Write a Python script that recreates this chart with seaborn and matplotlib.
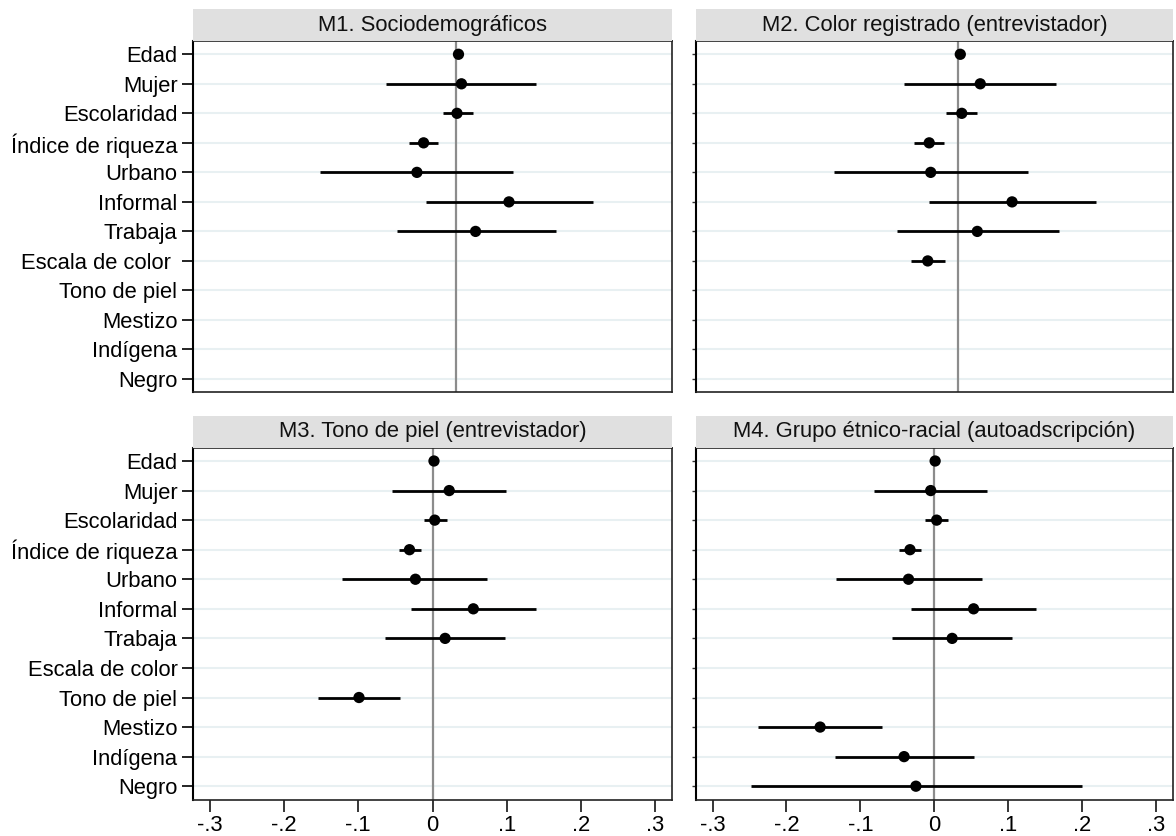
import numpy as np
import pandas as pd
import seaborn as sns
import matplotlib
matplotlib.use("Agg")
import matplotlib.pyplot as plt

nan = np.nan

variables = ["Edad", "Mujer", "Escolaridad", "Índice de riqueza", "Urbano", "Informal",
             "Trabaja", "Escala de color", "Tono de piel", "Mestizo", "Indígena", "Negro"]
labels_top = ["Edad", "Mujer", "Escolaridad", "Índice de riqueza", "Urbano", "Informal",
              "Trabaja", "Escala de color ", "Tono de piel", "Mestizo", "Indígena", "Negro"]
labels_bottom = variables

titles = ["M1. Sociodemográficos", "M2. Color registrado (entrevistador)",
          "M3. Tono de piel (entrevistador)", "M4. Grupo étnico-racial (autoadscripción)"]

m1_coef = [0.003, 0.007, 0.001, -0.044, -0.053, 0.071, 0.026, nan, nan, nan, nan, nan]
m1_lo   = [0.002, -0.095, -0.018, -0.063, -0.184, -0.041, -0.080, nan, nan, nan, nan, nan]
m1_hi   = [0.004, 0.108, 0.022, -0.024, 0.077, 0.184, 0.135, nan, nan, nan, nan, nan]

m2_coef = [0.003, 0.030, 0.005, -0.039, -0.037, 0.073, 0.026, -0.041, nan, nan, nan, nan]
m2_lo   = [0.002, -0.073, -0.016, -0.059, -0.168, -0.039, -0.082, -0.064, nan, nan, nan, nan]
m2_hi   = [0.004, 0.132, 0.025, -0.019, 0.095, 0.186, 0.136, -0.018, nan, nan, nan, nan]

m3_coef = [0.002, 0.0225, 0.003, -0.031, -0.023, 0.055, 0.017, nan, -0.099, nan, nan, nan]
m3_lo   = [0.001, -0.054, -0.012, -0.045, -0.122, -0.029, -0.064, nan, -0.154, nan, nan, nan]
m3_hi   = [0.003, 0.099, 0.019, -0.016, 0.074, 0.139, 0.097, nan, -0.0435, nan, nan, nan]

m4_coef = [0.001, -0.005, 0.003, -0.033, -0.035, 0.053, 0.024, nan, nan, -0.1545, -0.041, -0.025]
m4_lo   = [0.000, -0.081, -0.0125, -0.048, -0.133, -0.031, -0.0575, nan, nan, -0.238, -0.135, -0.248]
m4_hi   = [0.002, 0.071, 0.019, -0.018, 0.064, 0.137, 0.105, nan, nan, -0.071, 0.053, 0.199]

xtick_values = [-0.3, -0.2, -0.1, 0, 0.1, 0.2, 0.3]
xtick_labels = ["-.3", "-.2", "-.1", "0", ".1", ".2", ".3"]

models = [(m1_coef, m1_lo, m1_hi), (m2_coef, m2_lo, m2_hi),
          (m3_coef, m3_lo, m3_hi), (m4_coef, m4_lo, m4_hi)]

rows = []
for mi, (c, lo, hi) in enumerate(models):
    for vi, v in enumerate(variables):
        rows.append(dict(model=titles[mi], variable=v, pos=vi, coef=c[vi], lo=lo[vi], hi=hi[vi]))
df = pd.DataFrame(rows)

sns.set_theme(style="white")
plt.rcParams["font.family"] = ["Liberation Sans", "DejaVu Sans"]
FS = 15.8

W, H = 1176, 836
fig = plt.figure(figsize=(W / 100, H / 100), dpi=100)
fig.patch.set_facecolor("white")

# panel pixel boxes: (left, top, right, bottom)
boxes = [(192.7, 41.0, 672.3, 392.3), (695.5, 41.0, 1173.3, 392.3),
         (192.7, 447.7, 672.3, 799.5), (695.5, 447.7, 1173.3, 799.5)]
header_h = 32.0
xlims = [(-0.355, 0.291), (-0.355, 0.291), (-0.323, 0.323), (-0.323, 0.323)]

for i, title in enumerate(titles):
    l, t, r, b = boxes[i]
    ax = fig.add_axes([l / W, 1 - b / H, (r - l) / W, (b - t) / H])
    sub = df[df.model == title]
    for p in range(len(variables)):
        ax.axhline(p, color="#e8f0f2", lw=1.5, zorder=0)
    ax.axvline(0, color="#8c8c8c", lw=1.6, zorder=1)
    ok = sub.dropna(subset=["coef"])
    ax.hlines(ok.pos, ok.lo, ok.hi, color="black", lw=2.0, zorder=2)
    sns.scatterplot(data=ok, x="coef", y="pos", ax=ax, color="black", s=66,
                    edgecolor="none", zorder=3, legend=False)
    ax.set_xlim(*xlims[i])
    ax.set_ylim(len(variables) - 0.55, -0.45)
    ax.set_xlabel("")
    ax.set_ylabel("")
    ax.set_yticks(range(len(variables)))
    if i % 2 == 0:
        ax.set_yticklabels(labels_top if i == 0 else labels_bottom, fontsize=FS, color="black")
        ax.tick_params(axis="y", length=8, width=1.2, pad=3, left=True, color="black")
    else:
        ax.set_yticklabels([])
        ax.tick_params(axis="y", length=3, width=1.0, left=True, color="#333333")
    if i >= 2:
        ax.set_xticks(xtick_values)
        ax.set_xticklabels(xtick_labels, fontsize=FS, color="black")
        ax.tick_params(axis="x", length=8.5, width=1.1, pad=3, bottom=True, color="black")
    else:
        ax.set_xticks([])
    for s in ax.spines.values():
        s.set_color("#222222")
        s.set_linewidth(1.2)
    ax.spines["left"].set_color("black")
    ax.spines["left"].set_linewidth(1.5)
    # header strip
    hax = fig.add_axes([l / W, 1 - t / H, (r - l) / W, header_h / H])
    hax.set_facecolor("#e0e0e0")
    hax.set_xticks([])
    hax.set_yticks([])
    for s in hax.spines.values():
        s.set_visible(False)
    hax.text(0.5, 0.5, title, ha="center", va="center", fontsize=FS, color="#111111",
             transform=hax.transAxes)

fig.savefig("out.png", dpi=100)
